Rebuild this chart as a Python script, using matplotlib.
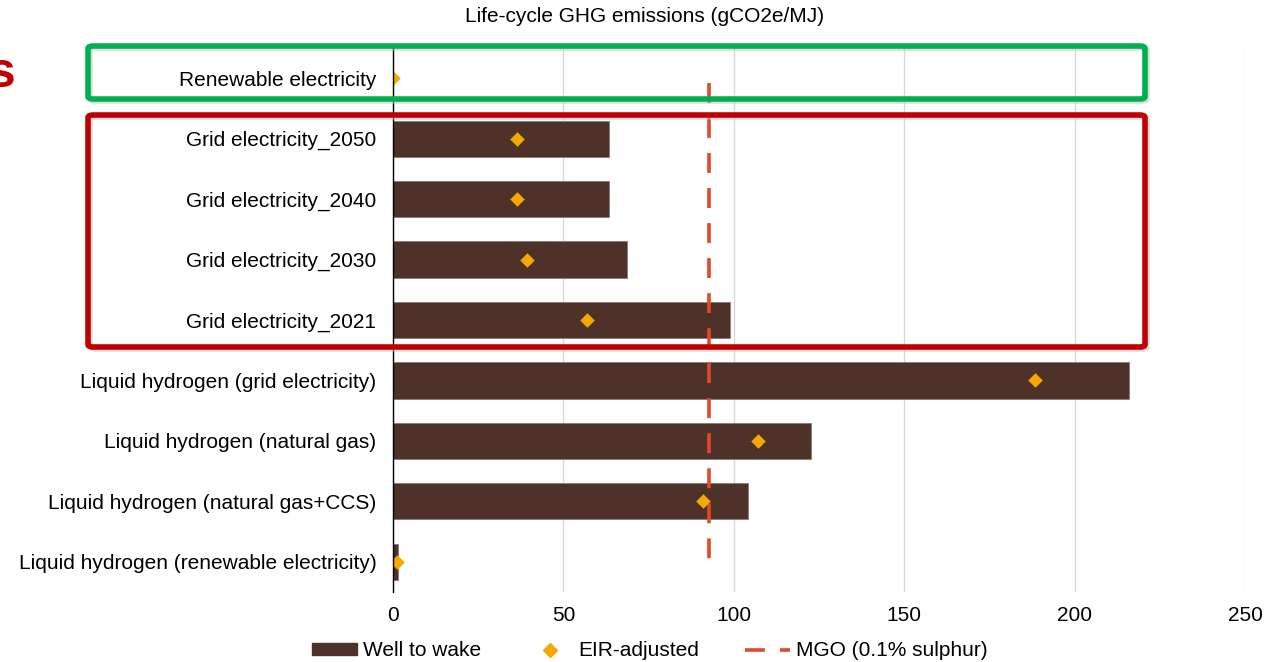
import matplotlib
matplotlib.use("Agg")
import matplotlib.pyplot as plt
from matplotlib.patches import FancyBboxPatch
from matplotlib.lines import Line2D
from matplotlib.patches import Patch

plt.rcParams['font.family'] = ['Liberation Sans', 'DejaVu Sans']

categories = [
    "Renewable electricity",
    "Grid electricity_2050",
    "Grid electricity_2040",
    "Grid electricity_2030",
    "Grid electricity_2021",
    "Liquid hydrogen (grid electricity)",
    "Liquid hydrogen (natural gas)",
    "Liquid hydrogen (natural gas+CCS)",
    "Liquid hydrogen (renewable electricity)",
]
well_to_wake = [0, 63.4, 63.4, 68.7, 98.9, 216.0, 122.7, 104.2, 1.5]
eir_adjusted = [0.1, 36.4, 36.4, 39.3, 56.9, 188.4, 107.1, 91.0, 1.3]
mgo_value = 92.7
xticks = [0, 50, 100, 150, 200, 250]

BAR = "#4E3229"
DIA = "#F5A800"
MGO = "#E04A2A"
FS = 15

fig = plt.figure(figsize=(12.78, 6.62), dpi=100)
ax = fig.add_axes([393/1278, 70/662, 852/1278, 544/662])

y = list(range(len(categories)))
ax.barh(y, well_to_wake, height=0.6, color=BAR, edgecolor="#8a7a74", linewidth=0.6, zorder=2)
ax.scatter(eir_adjusted, y, marker="D", s=55, color=DIA, zorder=4, linewidths=0)
ax.plot([mgo_value, mgo_value], [0.08, 8.05], color=MGO, lw=2.6, ls=(0, (5.5, 4.2)), zorder=3)

ax.set_xlim(0, 250)
ax.set_ylim(8.5, -0.5)
ax.set_xticks(xticks)
ax.set_xticklabels([str(t) for t in xticks], fontsize=FS)
ax.set_yticks(y)
ax.set_yticklabels(categories, fontsize=FS)
ax.tick_params(axis='y', length=0, pad=12)
ax.tick_params(axis='x', length=0, pad=10)
ax.xaxis.grid(True, color="#D9D9D9", lw=1, zorder=0)
ax.set_axisbelow(True)
for s in ["top", "right", "bottom"]:
    ax.spines[s].set_visible(False)
ax.spines["left"].set_color("black")
ax.spines["left"].set_linewidth(1)
ax.spines["left"].set_zorder(5)

fig.text(645/1278, 1 - 16/662, "Life-cycle GHG emissions (gCO2e/MJ)", ha="center", va="center", fontsize=FS)

# legend
handles = [
    Patch(facecolor=BAR, edgecolor=BAR),
    Line2D([], [], marker="D", color=DIA, ls="none", markersize=7.5),
    Line2D([], [], color=MGO, lw=2.6, ls=(0, (5.5, 4.2))),
]
labels = ["Well to wake", "EIR-adjusted", "MGO (0.1% sulphur)"]
fig.legend(handles, labels, loc="center", bbox_to_anchor=(650/1278, 1 - 651/662), ncol=3,
           frameon=False, fontsize=FS, handlelength=2.15, handleheight=0.5, columnspacing=2.2,
           handletextpad=0.3)

# highlight boxes (figure pixel coordinates)
def box(x0, y0, x1, y1, color):
    W, H = 1278, 662
    shadow = FancyBboxPatch((x0/W + 2/W, 1 - y1/H - 2/H), (x1 - x0)/W, (y1 - y0)/H,
                            boxstyle="round,pad=0,rounding_size=0.004", transform=fig.transFigure,
                            fill=False, edgecolor="#bbbbbb", lw=4, alpha=0.5, zorder=9)
    p = FancyBboxPatch((x0/W, 1 - y1/H), (x1 - x0)/W, (y1 - y0)/H,
                       boxstyle="round,pad=0,rounding_size=0.004", transform=fig.transFigure,
                       fill=False, edgecolor=color, lw=4, zorder=10)
    fig.add_artist(shadow)
    fig.add_artist(p)

box(88, 46, 1145, 99, "#00B050")
box(88, 115, 1145, 347, "#C00000")

fig.text(15/1278, 1 - 74/662, "s", ha="right", va="center", fontsize=36, fontweight="bold", color="#C00000")

fig.savefig("out.png", dpi=100)
